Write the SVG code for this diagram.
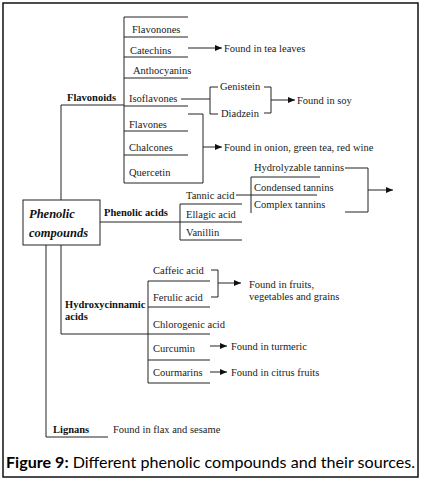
<svg xmlns="http://www.w3.org/2000/svg" width="423" height="483" viewBox="0 0 423 483">
<style>
.t{font-family:"Liberation Serif","Times New Roman",serif;font-size:10.5px;fill:#1a1a1a}
.b{font-family:"Liberation Serif","Times New Roman",serif;font-size:10.5px;font-weight:bold;fill:#111}
.i{font-family:"Liberation Serif","Times New Roman",serif;font-size:12.5px;font-weight:bold;font-style:italic;fill:#111}
.c line,.c polyline{stroke:#222;stroke-width:1;fill:none}
.cap{font-family:Lato,"Liberation Sans",sans-serif;font-size:15px;fill:#000}
</style>
<defs>
<marker id="ah" markerUnits="userSpaceOnUse" markerWidth="8" markerHeight="6" refX="7" refY="3" orient="auto">
<path d="M0,0 L7,3 L0,6 Z" fill="#111"/>
</marker>
</defs>
<rect x="3" y="3" width="415" height="474" fill="#fff" stroke="#111" stroke-width="1.5"/>

<g class="c" id="connectors">
<line x1="124" y1="17" x2="124" y2="183"/>
<line x1="124" y1="17" x2="188" y2="17"/>
<line x1="124" y1="37" x2="188" y2="37"/>
<line x1="124" y1="57" x2="188" y2="57"/>
<line x1="124" y1="78" x2="188" y2="78"/>
<line x1="124" y1="106" x2="188" y2="106"/>
<line x1="124" y1="131" x2="188" y2="131"/>
<line x1="124" y1="155" x2="188" y2="155"/>
<line x1="124" y1="183" x2="203" y2="183"/>
<polyline points="188,114 203,114 203,183"/>
<line x1="203" y1="147" x2="222" y2="147" marker-end="url(#ah)"/>
<line x1="188" y1="48" x2="222" y2="48" marker-end="url(#ah)"/>
<line x1="181" y1="99" x2="210" y2="99"/>
<polyline points="218,87 210,87 210,114 218,114"/>
<polyline points="264,87 271,87 271,113 264,113"/>
<line x1="271" y1="100" x2="295" y2="100" marker-end="url(#ah)"/>
<line x1="61" y1="105" x2="124" y2="105"/>
<line x1="61" y1="105" x2="61" y2="200"/>
<line x1="100" y1="222" x2="242" y2="222"/>
<line x1="180" y1="204" x2="180" y2="240"/>
<line x1="180" y1="204" x2="242" y2="204"/>
<line x1="180" y1="240" x2="242" y2="240"/>
<line x1="236" y1="195" x2="317" y2="195"/>
<line x1="251" y1="177" x2="251" y2="213"/>
<line x1="251" y1="177" x2="320" y2="177"/>
<polyline points="345,168 368,168 368,212 345,212"/>
<line x1="368" y1="190" x2="393" y2="190" marker-end="url(#ah)"/>
<polyline points="61,245 61,334 210,334"/>
<line x1="148" y1="281" x2="148" y2="383"/>
<line x1="148" y1="281" x2="210" y2="281"/>
<line x1="148" y1="307" x2="210" y2="307"/>
<line x1="148" y1="360" x2="210" y2="360"/>
<line x1="148" y1="383" x2="210" y2="383"/>
<polyline points="211,270 218,270 218,297 211,297"/>
<line x1="218" y1="283" x2="241" y2="283" marker-end="url(#ah)"/>
<line x1="210" y1="346" x2="227" y2="346" marker-end="url(#ah)"/>
<line x1="210" y1="372" x2="227" y2="372" marker-end="url(#ah)"/>
<polyline points="46,245 46,437 108,437"/>
</g>

<g id="phenolic-compounds">
<rect x="23" y="200" width="77" height="45" fill="#fff" stroke="#222" stroke-width="1"/>
<text class="i" x="29" y="218">Phenolic</text>
<text class="i" x="29" y="237">compounds</text>
</g>

<g id="flavonoids"><text class="b" x="67" y="101">Flavonoids</text></g>
<g id="flavonones"><text class="t" x="132" y="33">Flavonones</text></g>
<g id="catechins"><text class="t" x="130" y="54">Catechins</text></g>
<g id="tea"><text class="t" x="224" y="52">Found in tea leaves</text></g>
<g id="anthocyanins"><text class="t" x="133" y="74">Anthocyanins</text></g>
<g id="isoflavones"><text class="t" x="129" y="102">Isoflavones</text></g>
<g id="genistein"><text class="t" x="220" y="90">Genistein</text></g>
<g id="diadzein"><text class="t" x="221" y="117">Diadzein</text></g>
<g id="soy"><text class="t" x="297" y="104">Found in soy</text></g>
<g id="flavones"><text class="t" x="129" y="128">Flavones</text></g>
<g id="chalcones"><text class="t" x="129" y="151">Chalcones</text></g>
<g id="quercetin"><text class="t" x="129" y="176">Quercetin</text></g>
<g id="onion"><text class="t" x="224" y="151">Found in onion, green tea, red wine</text></g>

<g id="phenolic-acids"><text class="b" x="104" y="216">Phenolic acids</text></g>
<g id="tannic"><text class="t" x="186" y="199">Tannic acid</text></g>
<g id="ellagic"><text class="t" x="186" y="218">Ellagic acid</text></g>
<g id="vanillin"><text class="t" x="186" y="236">Vanillin</text></g>
<g id="hydrolyzable"><text class="t" x="254" y="171">Hydrolyzable tannins</text></g>
<g id="condensed"><text class="t" x="254" y="191">Condensed tannins</text></g>
<g id="complex"><text class="t" x="254" y="208">Complex tannins</text></g>

<g id="hydroxycinnamic"><text class="b" x="65" y="308">Hydroxycinnamic</text><text class="b" x="65" y="320">acids</text></g>
<g id="caffeic"><text class="t" x="153" y="274">Caffeic acid</text></g>
<g id="ferulic"><text class="t" x="153" y="301">Ferulic acid</text></g>
<g id="fruits"><text class="t" x="249" y="288">Found in fruits,</text><text class="t" x="249" y="300">vegetables and grains</text></g>
<g id="chlorogenic"><text class="t" x="153" y="328">Chlorogenic acid</text></g>
<g id="curcumin"><text class="t" x="153" y="352">Curcumin</text></g>
<g id="turmeric"><text class="t" x="231" y="350">Found in turmeric</text></g>
<g id="courmarins"><text class="t" x="153" y="376">Courmarins</text></g>
<g id="citrus"><text class="t" x="231" y="376">Found in citrus fruits</text></g>

<g id="lignans"><text class="b" x="53" y="433">Lignans</text><text class="t" x="113" y="433">Found in flax and sesame</text></g>

<g id="caption"><text class="cap" x="6" y="468" textLength="409" lengthAdjust="spacingAndGlyphs"><tspan font-weight="bold">Figure 9:</tspan> Different phenolic compounds and their sources.</text></g>
</svg>
